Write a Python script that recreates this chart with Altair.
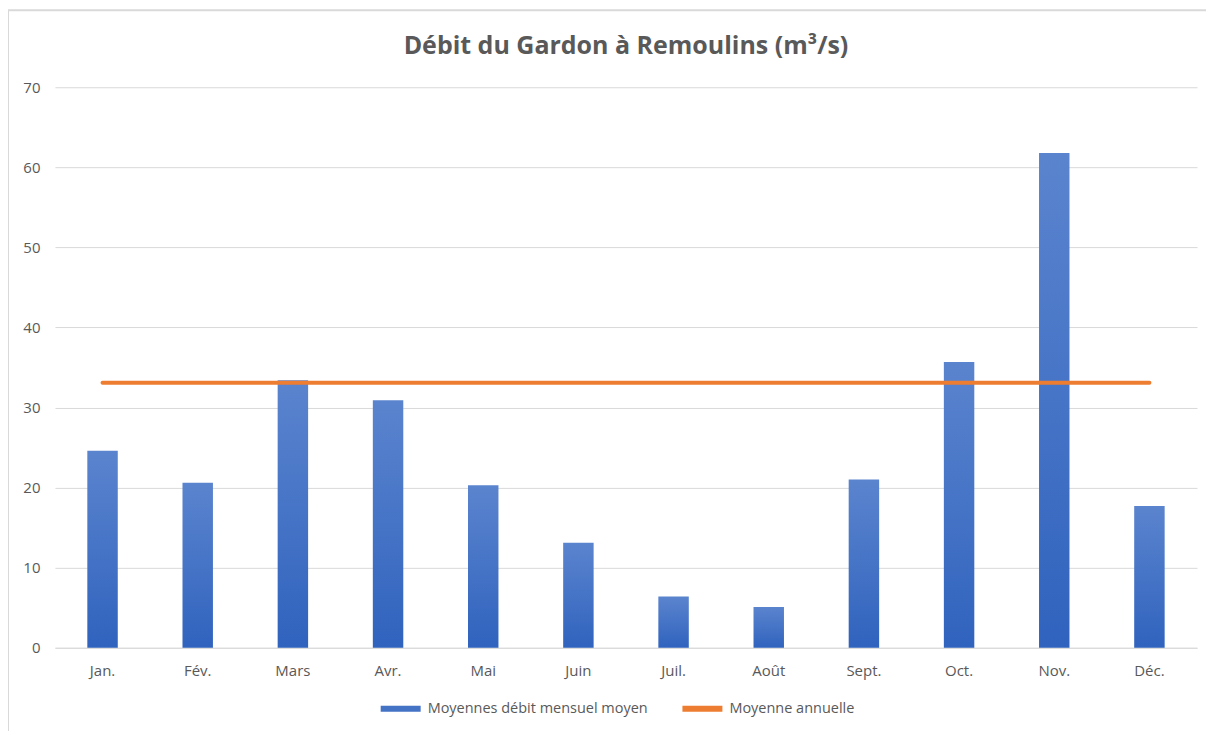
import altair as alt
import pandas as pd

mois = ["Jan.", "Fév.", "Mars", "Avr.", "Mai", "Juin", "Juil.", "Août", "Sept.", "Oct.", "Nov.", "Déc."]
debit = [24.6, 20.6, 33.4, 30.9, 20.3, 13.1, 6.4, 5.1, 21.0, 35.7, 61.8, 17.7]
moyenne_annuelle = 33.1

serie_barres = "Moyennes débit mensuel moyen"
serie_ligne = "Moyenne annuelle"

df_bar = pd.DataFrame({"mois": mois, "debit": debit, "serie": serie_barres})
df_line = pd.DataFrame({"mois": mois, "debit": [moyenne_annuelle] * len(mois), "serie": serie_ligne})

FONT = "Open Sans"
GREY = "#595959"

x_enc = alt.X("mois:N", sort=mois, title=None,
              scale=alt.Scale(paddingInner=0.68, paddingOuter=0.34),
              axis=alt.Axis(labelAngle=0, ticks=False, domain=True, domainColor="#d9d9d9",
                            labelPadding=16, labelFontSize=15, labelColor=GREY, labelFont=FONT))
y_enc = alt.Y("debit:Q", title=None,
              scale=alt.Scale(domain=[0, 70], nice=False),
              axis=alt.Axis(values=list(range(0, 71, 10)), ticks=False, domain=False,
                            gridColor="#d9d9d9", gridWidth=1, labelPadding=15,
                            labelFontSize=15, labelColor=GREY, labelFont=FONT))

bars = alt.Chart(df_bar).mark_bar(
    color=alt.Gradient(gradient="linear",
                       stops=[alt.GradientStop(color="#5B84CE", offset=0),
                              alt.GradientStop(color="#3063BE", offset=1)],
                       x1=0, x2=0, y1=0, y2=1)
).encode(x=x_enc, y=y_enc)

line = alt.Chart(df_line).mark_line(strokeWidth=4, strokeCap="round").encode(
    x=alt.X("mois:N", sort=mois),
    y=alt.Y("debit:Q"),
    color=alt.Color("serie:N",
                    scale=alt.Scale(domain=[serie_barres, serie_ligne], range=["#4472C4", "#ED7D31"]),
                    legend=alt.Legend(title=None, orient="none", direction="horizontal",
                                      legendX=323, legendY=599,
                                      symbolType="stroke", symbolStrokeWidth=6, symbolSize=1600,
                                      labelFontSize=14.5, labelColor=GREY, labelFont=FONT,
                                      labelLimit=500, columnPadding=22, labelOffset=4))
)

# chart frame (decorative border, top and left edges visible)
frame_v = alt.Chart(df_bar.head(1)).mark_rule(color="#d9d9d9", strokeWidth=2).encode(
    x=alt.value(-47), y=alt.value(-77), y2=alt.value(660))
frame_h = alt.Chart(df_bar.head(1)).mark_rule(color="#d9d9d9", strokeWidth=2).encode(
    x=alt.value(-47), x2=alt.value(1165), y=alt.value(-77))

chart = alt.layer(bars, line, frame_v, frame_h).properties(
    width=1143, height=561,
    title=alt.TitleParams("Débit du Gardon à Remoulins (m³/s)", fontSize=25, font=FONT,
                          fontWeight="bold", color=GREY, offset=-50, anchor="middle"),
    autosize=alt.AutoSizeParams(type="none"),
    padding={"left": 47, "top": 79, "right": 9, "bottom": 84},
).configure(background="white").configure_view(stroke=None)

chart.save("out.html", embed_options={"renderer": "svg", "actions": False})
